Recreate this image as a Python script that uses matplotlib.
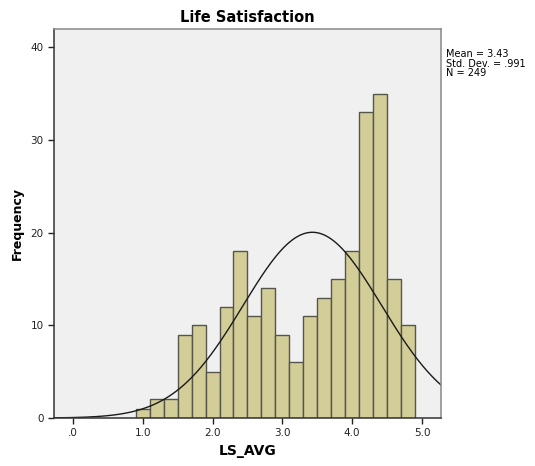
import numpy as np
import matplotlib
matplotlib.use('Agg')
from matplotlib import pyplot as plt

# histogram counts, bins of width 0.2 centred on 1.0, 1.2, ... 4.8
bin_left = np.arange(0.9, 4.8, 0.2)
counts = [1, 2, 2, 9, 10, 5, 12, 18, 11, 14, 9, 6, 11, 13, 15, 18, 33, 35, 15, 10]
bin_width = 0.2
mean, sd, n = 3.43, 0.991, 249

xticks = [0, 1, 2, 3, 4, 5]
xticklabels = ['.0', '1.0', '2.0', '3.0', '4.0', '5.0']
yticks = [0, 10, 20, 30, 40]

fig = plt.figure(figsize=(5.35, 4.66), dpi=100)
ax = fig.add_axes([0.101, 0.103, 0.723, 0.835])
ax.set_facecolor('#f0f0f0')

ax.bar(bin_left, counts, width=bin_width, align='edge',
       color='#d3ce98', edgecolor='#55554c', linewidth=1.0)

xx = np.linspace(-0.3, 5.3, 400)
yy = n * bin_width * np.exp(-0.5 * ((xx - mean) / sd) ** 2) / (sd * np.sqrt(2 * np.pi))
ax.plot(xx, yy, color='#1a1a1a', lw=1.0)

ax.set_xlim(-0.27, 5.27)
ax.set_ylim(0, 42)
ax.set_xticks(xticks)
ax.set_xticklabels(xticklabels)
ax.set_yticks(yticks)
ax.tick_params(labelsize=7.5, colors='#222222', length=4, width=1, direction='out')
for side in ['left', 'bottom']:
    ax.spines[side].set_color('#333333')
    ax.spines[side].set_linewidth(1.1)
for side in ['right', 'top']:
    ax.spines[side].set_color('#888888')
    ax.spines[side].set_linewidth(1.1)

ax.set_xlabel('LS_AVG', fontsize=10, fontweight='bold', labelpad=4)
ax.set_ylabel('Frequency', fontsize=9, fontweight='bold', labelpad=5)
ax.set_title('Life Satisfaction', fontsize=10.5, fontweight='bold', pad=5)

fig.text(0.834, 0.895, 'Mean = 3.43\nStd. Dev. = .991\nN = 249',
         fontsize=7, va='top', ha='left', linespacing=0.95)

fig.savefig('out.png', dpi=100)
